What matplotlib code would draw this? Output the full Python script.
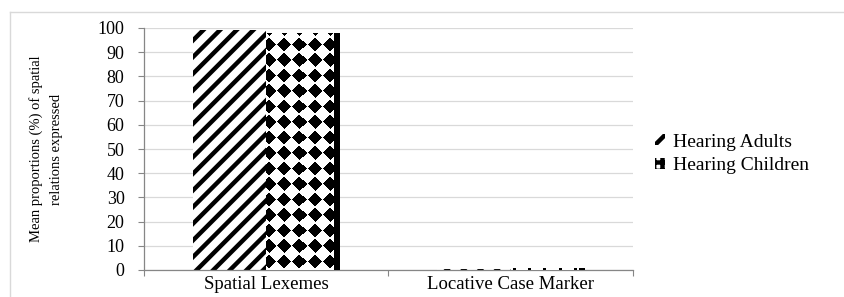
import numpy as np
import matplotlib.pyplot as plt
from matplotlib.patches import Patch
from matplotlib.lines import Line2D

categories = ["Spatial Lexemes", "Locative Case Marker"]
series_names = ["Hearing Adults", "Hearing Children"]
adults = [99.2, 0.6]
children = [97.9, 0.9]
yticks = list(range(0, 101, 10))

plt.rcParams['font.family'] = ['Liberation Serif', 'DejaVu Serif']
plt.rcParams['hatch.linewidth'] = 3.2

W, H = 845, 297
fig = plt.figure(figsize=(W / 100, H / 100), dpi=100)
ax = fig.add_axes([144 / W, 1 - 270 / H, 489 / W, 242 / H])

x = np.arange(len(categories))
w = 0.3
ax.set_xlim(-0.5, 1.5)
ax.set_ylim(0, 100)

# adults: diagonal stripes
ax.bar(x - w / 2, adults, w, color='white', edgecolor='black', hatch='//',
       linewidth=0, zorder=2)

# children: white bars filled with a diamond pattern image clipped to them
bars = ax.bar(x + w / 2, children, w, color='white', linewidth=0, zorder=2)
for bar in bars:
    x0, y0 = bar.get_x(), bar.get_y()
    x1, y1 = x0 + bar.get_width(), y0 + bar.get_height()
    p0 = ax.transData.transform((x0, y0))
    p1 = ax.transData.transform((x1, y1))
    nx = max(int(round(p1[0] - p0[0])), 1)
    ny = max(int(round(p1[1] - p0[1])), 1)
    jj, ii = np.meshgrid(np.arange(nx) + 0.5, np.arange(ny) + 0.5)
    dx = ((jj - 10.7) % 15.0) - 7.5
    dy = ((ii - 3.7) % 15.5) - 7.75
    img = np.where(np.abs(dx) + np.abs(dy) < 7.2, 0.0, 1.0)
    img[:, nx - 6:] = 0.0
    im = ax.imshow(img, cmap='gray', vmin=0, vmax=1, origin='upper',
                   extent=(x0, x1, y0, y1), aspect='auto',
                   interpolation='nearest', zorder=3)
    im.set_clip_path(bar)

ax.set_xlim(-0.5, 1.5)
ax.set_ylim(0, 100)

ax.set_yticks(yticks)
ax.set_yticklabels([str(t) for t in yticks], fontsize=13)
ax.tick_params(axis='y', length=4.5, width=0.8, color='#868686', pad=9.5)
ax.yaxis.grid(True, color='#d9d9d9', linewidth=0.9, zorder=0)
ax.set_axisbelow(True)

ax.set_xticks(x)
ax.set_xticklabels(categories, fontsize=13.5)
ax.tick_params(axis='x', which='major', length=0, pad=4)
ax.set_xticks([-0.5, 0.5, 1.5], minor=True)
ax.tick_params(axis='x', which='minor', length=4, width=0.8, color='#868686')

for s in ['top', 'right']:
    ax.spines[s].set_visible(False)
for s in ['left', 'bottom']:
    ax.spines[s].set_color('#868686')
    ax.spines[s].set_linewidth(0.9)

ax.set_ylabel("Mean proportions (%) of spatial\nrelations expressed",
              fontsize=10.5, linespacing=1.75)
ax.yaxis.set_label_coords((63.5 - 144) / 489, 0.5)

handles = [Patch(facecolor='white', edgecolor='black', hatch='//', linewidth=0),
           Patch(facecolor='white', edgecolor='black', hatch='++', linewidth=0)]
fig.legend(handles, series_names, loc='center left',
           bbox_to_anchor=(655 / W, 1 - 154 / H), frameon=False, fontsize=14,
           handlelength=0.5, handleheight=0.5, handletextpad=0.45,
           labelspacing=0.35, borderpad=0, borderaxespad=0)

# light chart-area border (left and top edges)
fig.add_artist(Line2D([10 / W, 10 / W], [0, 1 - 12 / H], transform=fig.transFigure,
                      color='#d9d9d9', linewidth=1))
fig.add_artist(Line2D([10 / W, 1], [1 - 12 / H, 1 - 12 / H], transform=fig.transFigure,
                      color='#d9d9d9', linewidth=1))

fig.savefig('out.png', dpi=100)
